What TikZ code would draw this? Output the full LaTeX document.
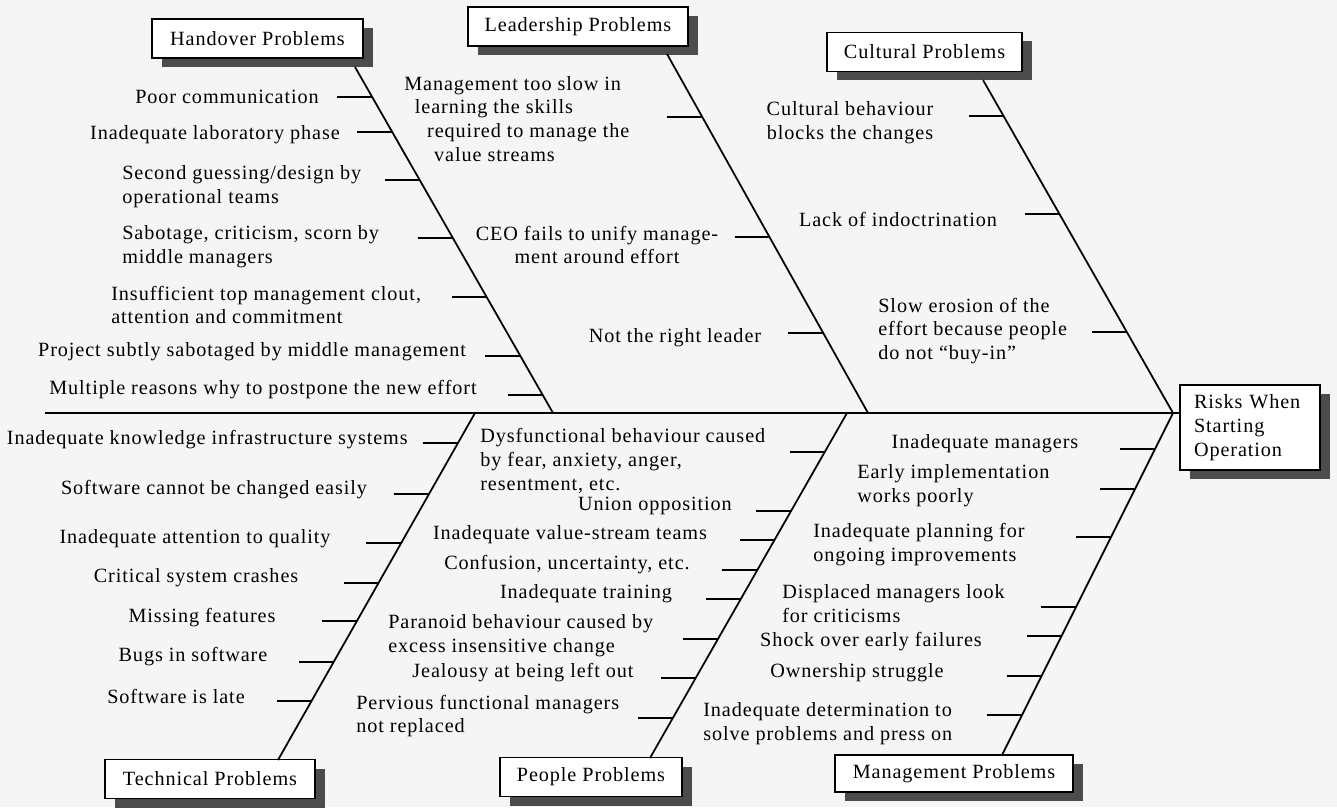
\documentclass[tikz,border=0pt]{standalone}
\usepackage{fontspec}
\setmainfont{Liberation Serif}[LetterSpace=4.5]
\usetikzlibrary{shadows}

\begin{document}
\begin{tikzpicture}[x=0.02cm,y=-0.02cm,
    txt/.style={inner sep=0pt,font=\fontsize{11.5}{13.6}\selectfont},
    catbox/.style={draw,line width=0.8pt,fill=white,inner sep=0pt,minimum height=0.78cm,
      font=\fontsize{11.5}{13.6}\selectfont,
      drop shadow={shadow xshift=0.2cm,shadow yshift=-0.18cm,fill=black!70,opacity=1}},
    bone/.style={line width=1pt},
    tick/.style={line width=1pt}]
    \fill[black!4] (0,0) rectangle (1337,807);
    \useasboundingbox (0,0) rectangle (1337,807);

    \node[catbox,minimum width=4.22cm] (hand) at (257.5,38.5) {Handover Problems};
    \node[catbox,minimum width=4.4cm] (lead) at (578,26.5) {Leadership Problems};
    \node[catbox,minimum width=3.9cm] (cult) at (924.5,52) {Cultural Problems};
    \node[catbox,minimum width=4.2cm] (tech) at (210,779) {Technical Problems};
    \node[catbox,minimum width=3.64cm] (peop) at (591,777) {People Problems};
    \node[catbox,minimum width=4.76cm,minimum height=0.74cm] (mgmt) at (954,773.5) {Management Problems};
    \node[catbox,text width=2.24cm,align=left,inner xsep=0.28cm,minimum height=1.7cm] (risk) at (1250,427.5) {Risks When\\Starting\\Operation};

    \coordinate (tail) at (45,413);
    \coordinate (jn) at (1173,413);
    \coordinate (h0) at (355,67);
    \coordinate (h1) at (553,413);
    \coordinate (l0) at (667,54);
    \coordinate (l1) at (868,413);
    \coordinate (c0) at (983,80);
    \coordinate (t0) at (278,760);
    \coordinate (t1) at (475,413);
    \coordinate (p0) at (650,758);
    \coordinate (p1) at (847,413);
    \coordinate (m0) at (1002,755);

    \draw[bone] (tail) -- (tail -| risk.west);
    \draw[bone] (h0) -- (h1);
    \draw[bone] (l0) -- (l1);
    \draw[bone] (c0) -- (jn);
    \draw[bone] (t0) -- (t1);
    \draw[bone] (p0) -- (p1);
    \draw[bone] (m0) -- (jn);

    \foreach \y [count=\i] in {97,132,180,238,297,356,395}
      \draw[tick] (intersection of h0--h1 and 0,\y--1,\y) coordinate (hk\i) -- ++(-35,0);
    \foreach \y [count=\i] in {117,237,333}
      \draw[tick] (intersection of l0--l1 and 0,\y--1,\y) coordinate (lk\i) -- ++(-35,0);
    \foreach \y [count=\i] in {116,214,332}
      \draw[tick] (intersection of c0--jn and 0,\y--1,\y) coordinate (ck\i) -- ++(-35,0);
    \foreach \y [count=\i] in {443,494,543,583,621,662,701}
      \draw[tick] (intersection of t0--t1 and 0,\y--1,\y) coordinate (tk\i) -- ++(-35,0);
    \foreach \y [count=\i] in {452,511,540,570,599,639,678,718}
      \draw[tick] (intersection of p0--p1 and 0,\y--1,\y) coordinate (pk\i) -- ++(-35,0);
    \foreach \y [count=\i] in {449,489,537,607,636,676,715}
      \draw[tick] (intersection of m0--jn and 0,\y--1,\y) coordinate (mk\i) -- ++(-35,0);

    \node[txt] (ha) at (227,97) {Poor communication};
    \node[txt] (hb) at (215,135) {Inadequate laboratory phase};
    \node[txt,align=left,anchor=west] (hc) at (122,187) {Second guessing/design by\\operational teams};
    \node[txt,align=left,anchor=west] (hd) at (122,247) {Sabotage, criticism, scorn by\\middle managers};
    \node[txt,align=left,anchor=west] (he) at (111,305) {Insufficient top management clout,\\attention and commitment};
    \node[txt] (hf) at (252,352) {Project subtly sabotaged by middle management};
    \node[txt] (hg) at (263,390) {Multiple reasons why to postpone the new effort};

    \node[txt,align=left,anchor=west] (la) at (404,119) {Management too slow in\\\hspace*{6pt}learning the skills\\\hspace*{13pt}required to manage the\\\hspace*{17pt}value streams};
    \node[txt,align=center] (lb) at (597,245) {CEO fails to unify manage-\\ment around effort};
    \node[txt] (lc) at (675,338) {Not the right leader};

    \node[txt,align=center] (ca) at (850,123) {Cultural behaviour\\blocks the changes};
    \node[txt] (cb) at (898,219) {Lack of indoctrination};
    \node[txt,align=left,anchor=west] (cc) at (878,331) {Slow erosion of the\\effort because people\\do not ``buy-in''};

    \node[txt,anchor=east] (ta) at (408,440) {Inadequate knowledge infrastructure systems};
    \node[txt] (tb) at (214,490) {Software cannot be changed easily};
    \node[txt] (tc) at (195,539) {Inadequate attention to quality};
    \node[txt] (td) at (196,578) {Critical system crashes};
    \node[txt] (te) at (202,618) {Missing features};
    \node[txt] (tf) at (193,657) {Bugs in software};
    \node[txt] (tg) at (176,696) {Software is late};

    \node[txt,align=left,anchor=west] (pa) at (480,461) {Dysfunctional behaviour caused\\by fear, anxiety, anger,\\resentment, etc.};
    \node[txt] (pb) at (655,506) {Union opposition};
    \node[txt] (pc) at (570,535) {Inadequate value-stream teams};
    \node[txt] (pd) at (567,565) {Confusion, uncertainty, etc.};
    \node[txt] (pe) at (586,594) {Inadequate training};
    \node[txt,align=left,anchor=west] (pf) at (388,636) {Paranoid behaviour caused by\\excess insensitive change};
    \node[txt] (pg) at (523,673) {Jealousy at being left out};
    \node[txt,align=left,anchor=west] (ph) at (356,716) {Pervious functional managers\\not replaced};

    \node[txt] (ma) at (985,444) {Inadequate managers};
    \node[txt,align=left,anchor=west] (mb) at (857,486) {Early implementation\\works poorly};
    \node[txt,align=left,anchor=west] (mc) at (813,545) {Inadequate planning for\\ongoing improvements};
    \node[txt,align=left,anchor=west] (md) at (782,604) {Displaced managers look\\for criticisms};
    \node[txt] (me) at (871,642) {Shock over early failures};
    \node[txt] (mf) at (857,673) {Ownership struggle};
    \node[txt,align=left,anchor=west] (mg) at (703,724) {Inadequate determination to\\solve problems and press on};
\end{tikzpicture}
\end{document}
